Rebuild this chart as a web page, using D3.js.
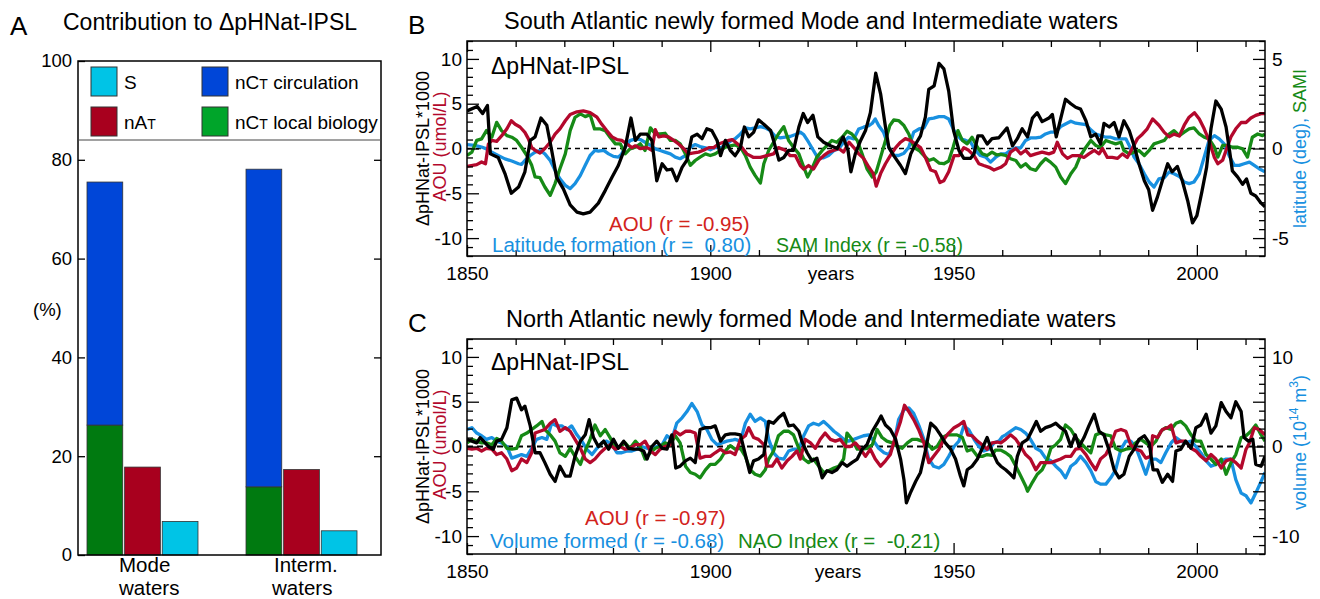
<!DOCTYPE html>
<html><head><meta charset="utf-8">
<script src="https://cdn.jsdelivr.net/npm/d3@7"></script>
<style>
body{margin:0;background:#fff}
svg{display:block;font-family:"Liberation Sans",Arial,Helvetica,sans-serif}
</style></head><body>
<svg id="c" width="1320" height="599"></svg>
<script>
// ---------- Panel A data ----------
const barCategories = ["Mode waters", "Interm. waters"];
const barLocalBio = [26.3, 13.8];
const barCirculation = [49.2, 64.3];   // stacked on local biology
const barNAT = [17.8, 17.3];
const barS = [6.8, 4.9];
const yTicksA = [0, 20, 40, 60, 80, 100];

// ---------- Panel B data (South Atlantic) ----------
const bPH = [[1850,4.2],[1852.1,4.7],[1853.2,3.9],[1854.2,4.8],[1854.8,-0.6],[1856.4,-1.0],[1857.8,-2.8],[1859.1,-5.0],[1860.6,-4.3],[1861.9,-2.6],[1863,0.9],[1864,1.3],[1865.2,3.4],[1866.4,2.6],[1867.4,-0.2],[1868.4,-3.2],[1869.8,-4.5],[1871.2,-6.3],[1872.6,-7.1],[1873.9,-7.3],[1875.3,-7.1],[1877,-6.1],[1878.4,-4.7],[1879.8,-3.2],[1881.1,-1.9],[1882.5,0.1],[1883.7,3.4],[1884.6,0.9],[1885.6,1.6],[1887,1.6],[1888,0.9],[1889,-3.6],[1890.1,-1.7],[1891.1,-2.4],[1892.1,-2.3],[1893.1,-3.6],[1894.2,-2.1],[1895.2,-1.3],[1896.2,1.3],[1897.3,1.6],[1898.3,1.1],[1899.3,2.2],[1900.3,2.0],[1901.4,0.9],[1902.1,-0.8],[1903.1,0.9],[1904.1,-0.2],[1905.1,-0.8],[1906.2,0.1],[1907,2.4],[1907.9,1.3],[1908.9,1.8],[1909.9,3.2],[1911,2.7],[1912.4,2.0],[1913,0.9],[1914.1,-1.3],[1915.1,-1.0],[1916.1,-0.2],[1917.1,-0.2],[1918.2,2.4],[1919.1,3.9],[1920,2.9],[1921.1,3.7],[1922.1,1.3],[1923.3,0.7],[1924.7,0.3],[1926.1,0],[1927.3,1.3],[1928.3,-0.2],[1928.9,-2.6],[1929.8,-0.6],[1930.9,0.9],[1931.9,2.0],[1932.9,4.0],[1934,8.4],[1935,6.1],[1936,2.4],[1936.7,0.1],[1937.7,-0.8],[1939.1,-1.9],[1940.1,-2.8],[1941.2,-0.6],[1942.2,0.5],[1943.2,1.4],[1944.2,3.5],[1944.9,6.6],[1946,7.0],[1947,9.5],[1948,8.9],[1949,6.4],[1950,2.0],[1951.1,-0.2],[1952.1,-1.1],[1953.5,-1.1],[1954.2,-0.6],[1955,1.4],[1955.9,1.4],[1956.9,0.5],[1957.9,1.1],[1959.3,1.2],[1961,2.3],[1962.1,0.3],[1963.1,1.1],[1964.1,2.2],[1965.2,1.3],[1966.2,3.4],[1967.2,4.0],[1968.2,3.0],[1969.6,3.4],[1970.3,3.8],[1971.1,1.3],[1972,3.3],[1973,5.5],[1974.1,5.0],[1975.1,4.6],[1976.1,4.4],[1977.2,3.1],[1978.2,1.3],[1979.2,1.6],[1980.2,0.5],[1980.9,2.8],[1982,2.4],[1983,2.9],[1984,1.3],[1985,3.1],[1986.1,2.0],[1987.1,0.3],[1988.1,-1.7],[1989.2,-3.6],[1990.1,-4.6],[1990.9,-6.9],[1991.9,-5.4],[1992.9,-3.6],[1994,-1.7],[1994.9,-2.6],[1996,-2.0],[1997,-3.6],[1998.1,-5.8],[1999.1,-8.3],[2000,-7.5],[2001,-4.9],[2002,-2.1],[2002.9,2.2],[2003.9,5.3],[2005,4.4],[2006,2.4],[2006.7,-0.2],[2007.3,-2.5],[2008.4,-3.2],[2009.4,-4.0],[2010.2,-3.4],[2011.1,-5.0],[2012.1,-5.3],[2013.2,-6.1],[2014,-6.5]];
const bAOU = [[1850,-2.0],[1852,-1.8],[1853,-1.5],[1853.8,-1.7],[1854.4,0.5],[1855.1,0.9],[1856.1,0.8],[1857.1,1.4],[1858.2,2.2],[1859.1,3.1],[1859.9,2.7],[1860.9,2.4],[1861.9,1.8],[1862.6,1.1],[1863.3,0.1],[1864,-0.2],[1865,-0.5],[1866,0],[1867.1,0.7],[1868.1,1.6],[1869.1,2.2],[1870.2,3.1],[1871.2,3.8],[1872.6,4.1],[1873.9,4.2],[1875.3,4.0],[1876.7,3.5],[1877.7,2.7],[1878.7,2.0],[1879.8,1.3],[1880.8,1.0],[1881.8,0.9],[1882.9,0.5],[1883.9,0.1],[1884.6,0.3],[1885.6,0],[1887,0.1],[1888,-0.2],[1888.7,2.1],[1889.4,1.3],[1890.4,1.4],[1891.4,1.3],[1892.5,0.9],[1893.5,0.5],[1894.5,0],[1895.5,-0.6],[1896.6,-0.5],[1897.6,-0.4],[1898.6,-0.2],[1899.7,0.1],[1900.7,0.1],[1901.7,0.5],[1902.7,0.7],[1903.8,0.9],[1904.5,1.0],[1906.5,0.1],[1907.5,-0.6],[1908.9,-1.0],[1910.3,-1.0],[1911.6,-0.8],[1913,-0.6],[1914,0.1],[1915.4,-0.2],[1916.4,-0.8],[1917.5,-0.8],[1918.5,-1.9],[1919.2,-2.3],[1920.2,-1.9],[1921.2,-2.3],[1922.3,-1.3],[1923.3,-0.8],[1924.3,-0.4],[1925.4,-0.2],[1926.4,0],[1927.4,-0.4],[1928.5,0.7],[1929.5,0.1],[1930.5,-0.6],[1931.5,-1.1],[1932.6,-2.1],[1933.5,-2.8],[1934.1,-4.2],[1935,-2.8],[1936,-1.7],[1937,-0.8],[1938.1,0.1],[1939.1,0.7],[1940.1,1.1],[1941.1,0.9],[1942.2,0.5],[1943.2,0.1],[1944.2,-1.0],[1945.3,-2.4],[1946.3,-2.6],[1947.2,-3.8],[1948,-3.6],[1949,-2.6],[1950.1,-0.8],[1951.1,-0.8],[1952.1,0.1],[1953.1,-0.2],[1954.2,-0.8],[1955.2,-1.7],[1956.2,-1.9],[1957.3,-2.1],[1958.3,-2.4],[1959.7,-2.1],[1960.7,-1.7],[1961.7,-0.4],[1962.8,0],[1963.8,-0.6],[1964.8,-0.2],[1965.8,-0.8],[1966.9,-0.6],[1968.2,-0.4],[1969.6,-0.6],[1970.6,-0.4],[1971.3,0.7],[1972.4,-0.6],[1973.4,-1.1],[1974.4,-0.8],[1975.8,-0.8],[1976.8,-1.0],[1977.8,-0.6],[1978.9,-0.2],[1979.9,-0.6],[1980.6,0],[1981.6,-1.0],[1982.6,-1.0],[1983.7,-1.1],[1984.7,-0.6],[1985.7,-1.0],[1986.8,0.1],[1987.8,1.1],[1988.8,1.6],[1989.8,2.2],[1990.9,3.3],[1992.2,2.6],[1993.3,1.8],[1994.3,1.3],[1995.3,1.6],[1996.4,1.4],[1997.4,2.6],[1998.4,3.5],[1999.5,4.0],[2000.5,3.3],[2001.5,2.2],[2002.5,0.9],[2003.6,-1.0],[2004.3,-1.7],[2005.3,-1.3],[2006,-0.2],[2007,1.3],[2008,2.2],[2009.1,2.9],[2010.1,2.9],[2011.1,3.4],[2012.1,3.7],[2013.2,3.9],[2014,3.9]];
// latitude of formation (deg, right axis)
const bLat = [[1850,0.22],[1851.6,0.17],[1853,0.08],[1854,-0.02],[1855.1,-0.2],[1856.4,-0.39],[1857.8,-0.58],[1859.2,-0.7],[1860.6,-0.85],[1861.2,-0.89],[1861.9,-0.67],[1863,-0.39],[1864,-0.2],[1865,-0.11],[1866,-0.3],[1867.1,-0.67],[1868.1,-1.22],[1869.1,-1.69],[1870.2,-2.06],[1871.2,-2.24],[1872.2,-1.96],[1873.3,-1.5],[1874.3,-0.94],[1875.3,-0.39],[1876.3,-0.11],[1877,-0.15],[1878.1,-0.11],[1879.1,-0.3],[1880.1,-0.44],[1881.1,-0.48],[1881.8,-0.3],[1882.5,0.07],[1883.5,0.44],[1884.6,0.54],[1885.6,0.5],[1886.6,0.35],[1887.7,0.17],[1888.7,-0.02],[1889.7,-0.11],[1890.7,-0.2],[1891.8,-0.3],[1892.8,-0.48],[1893.8,-0.57],[1894.9,-0.39],[1895.9,0.07],[1896.9,0.22],[1897.9,0.11],[1899,0.04],[1900,-0.07],[1901,0.07],[1902.1,0.04],[1903.1,0.17],[1904.1,0.4],[1905.1,0.54],[1906.2,0.81],[1907.2,1.15],[1908.2,1.09],[1909.2,1.15],[1910.3,1.22],[1911.3,1.15],[1912.3,1.0],[1913.4,0.67],[1914.4,0.59],[1915.4,0.63],[1916.4,0.67],[1917.5,0.78],[1918.5,0.91],[1919.2,0.78],[1920.2,0.35],[1921.2,-0.11],[1922.1,-0.52],[1923.3,-0.52],[1924.3,-0.39],[1925.4,-0.11],[1926.4,-0.02],[1927.4,0.35],[1928.4,0.63],[1929.5,0.54],[1930.5,1.09],[1931.5,1.19],[1932.6,1.28],[1933.3,1.41],[1933.9,1.65],[1934.6,1.28],[1935.6,0.91],[1936.7,0.07],[1937.7,-0.39],[1938.7,-0.39],[1939.8,-0.26],[1940.8,0.07],[1941.8,0.91],[1942.9,1.09],[1943.9,1.15],[1944.9,1.65],[1945.9,1.7],[1947,1.78],[1948,1.78],[1949,1.65],[1950.1,1.0],[1951.4,0.54],[1952.5,0.45],[1953.5,0.35],[1954.5,-0.11],[1955.5,-0.39],[1956.6,-0.48],[1957.6,-0.76],[1958.6,-0.5],[1959.7,-0.3],[1960.7,-0.3],[1961.7,-0.11],[1962.8,0.04],[1963.8,0.04],[1964.8,0.45],[1965.8,0.59],[1966.9,0.59],[1967.9,0.63],[1968.9,0.81],[1969.9,0.91],[1971,0.91],[1972,1.22],[1973,1.37],[1974.1,1.52],[1975.1,1.41],[1976.1,1.37],[1977.2,1.33],[1978.2,1.04],[1979.2,0.81],[1980.2,0.72],[1981.3,0.63],[1982.3,0.63],[1983.3,0.54],[1984.4,0.54],[1985.4,0.54],[1986.1,0.17],[1987.1,-0.48],[1988.1,-0.85],[1989.2,-1.41],[1990.2,-1.87],[1991.2,-2.15],[1992.2,-1.69],[1993.3,-1.63],[1994.3,-1.31],[1995.3,-1.41],[1996.4,-1.56],[1997.4,-1.87],[1998.4,-1.96],[1999.4,-1.87],[2000.5,-1.41],[2001.5,-0.48],[2002.5,0.45],[2003.6,0.72],[2004.6,0.54],[2005.6,0.26],[2006.6,-0.39],[2007.7,-0.94],[2008.7,-0.94],[2009.7,-0.85],[2010.8,-0.76],[2011.8,-0.94],[2012.8,-1.13],[2014,-1.3]];
// SAM index (right axis)
const bSAM = [[1850,-0.39],[1851,-0.2],[1852,0.45],[1853,0.54],[1854,1.0],[1855.1,0.63],[1856.1,1.46],[1857.1,1.0],[1858.2,0.72],[1859.2,0.63],[1860.2,0.45],[1861.2,0.07],[1862.3,-0.39],[1863.3,-0.94],[1864,-1.59],[1865,-1.63],[1866,-2.15],[1867.1,-2.61],[1868.1,-1.96],[1869.1,-1.13],[1870.2,-0.3],[1871.2,1.0],[1872.2,1.74],[1873.3,1.93],[1874.3,1.78],[1875.3,1.89],[1876.2,1.09],[1877.4,1.09],[1878.4,1.0],[1879.4,0.63],[1880.5,0.26],[1881.5,0.26],[1882.5,-0.3],[1883.5,-0.02],[1884.6,0.07],[1885.6,0.26],[1886.6,-0.11],[1887.7,1.15],[1888.7,0.81],[1889.7,0.81],[1890.7,0.85],[1891.8,0.45],[1892.8,0.45],[1893.8,0.26],[1894.9,-0.3],[1895.9,-0.94],[1896.9,-0.67],[1897.9,-0.48],[1899,-0.3],[1900,-0.39],[1901,-0.3],[1902.1,-0.11],[1903.1,0.07],[1904.1,0.15],[1905.1,0.2],[1906.2,0.07],[1907.2,-0.39],[1908.2,-1.04],[1909.2,-1.5],[1910.3,-1.93],[1911,-0.85],[1912,-0.11],[1913,0.35],[1914,0.81],[1915.1,1.22],[1916.1,0.45],[1917.1,0.07],[1918.2,-0.3],[1919.2,-1.04],[1920,-1.59],[1920.9,-1.13],[1921.9,-0.48],[1923,-0.11],[1924,0.17],[1925,0.45],[1926,0.35],[1927.1,0.63],[1928.1,0.96],[1929.1,0.81],[1930.2,0.45],[1931.2,-0.3],[1932.2,-1.13],[1933.3,-1.59],[1934.1,-1.31],[1935,-0.48],[1936,0.45],[1936.9,1.28],[1937.7,1.59],[1938.7,1.56],[1939.8,1.28],[1940.8,0.81],[1941.8,0.07],[1942.9,-0.11],[1943.9,-0.39],[1944.9,-0.67],[1945.9,-0.57],[1947,-0.81],[1948,-0.85],[1949,-0.7],[1949.9,0.07],[1950.9,1.0],[1951.8,0.45],[1952.8,0.26],[1953.8,0.63],[1954.9,0.07],[1955.9,-0.3],[1956.9,-0.39],[1957.9,-0.2],[1958.8,-0.35],[1959.7,-0.33],[1960.7,-0.39],[1961.7,-0.57],[1962.8,-0.67],[1963.8,-1.04],[1964.8,-0.85],[1965.8,-1.13],[1966.9,-1.22],[1967.9,-0.85],[1968.9,-0.57],[1969.9,-0.76],[1971,-1.04],[1972,-1.59],[1973,-1.96],[1974.1,-1.41],[1975.1,-1.04],[1976.1,-0.39],[1977.2,0.07],[1978.2,0.45],[1979.2,0.17],[1980.2,0.07],[1981.3,0.45],[1982.3,0.35],[1983.3,0.26],[1984.4,0.35],[1985,-0.11],[1986.1,-0.3],[1987.1,-0.2],[1988.1,-0.11],[1989.2,-0.39],[1990.2,-0.11],[1991.2,0.26],[1992.2,0.35],[1993.3,0.45],[1994.3,0.81],[1995.3,1.0],[1996.4,0.72],[1997.4,0.91],[1998.4,1.09],[1999.4,1.15],[2000.5,0.81],[2001.5,0.63],[2002.5,0.54],[2003.6,0.07],[2004.3,-0.48],[2005.3,0.17],[2006.3,0.17],[2007.3,0.07],[2008.4,0.07],[2009.4,-0.02],[2010.4,-0.48],[2011.4,0.63],[2012.5,0.81],[2013.5,0.72],[2014,0.8]];

// ---------- Panel C data (North Atlantic) ----------
const cPH = [[1850,0.8],[1851,0.6],[1852,0.4],[1852.7,1.0],[1853.4,0.6],[1854.4,0],[1855.4,-0.3],[1856.1,0.6],[1857.1,0.8],[1858.2,2.1],[1859.2,5.2],[1860.2,5.4],[1861.2,4.1],[1861.9,4.5],[1863,2.3],[1864,-0.7],[1865,-0.7],[1866,-1.8],[1867.1,-3.1],[1868.1,-3.9],[1869.1,-2.2],[1870.2,-3.3],[1871.2,-3.3],[1872.2,-1.1],[1873.3,0.6],[1874.3,1.3],[1875.1,3.0],[1876,1.0],[1877,0],[1878.1,0.6],[1879.1,-0.3],[1880.1,0.8],[1881.1,-0.2],[1882.2,0.6],[1883.2,-0.2],[1884.2,-0.3],[1885.3,-0.3],[1886.3,-0.5],[1887,-1.4],[1888,0],[1889,0.6],[1890.1,-0.2],[1891.1,-0.3],[1892.1,1.3],[1892.9,-2.4],[1893.8,-2.2],[1894.9,-1.6],[1895.9,-1.3],[1896.9,-1.8],[1897.9,1.9],[1899,2.1],[1900,2.1],[1901,2.3],[1902.1,0.6],[1903.1,1.3],[1904.1,1.4],[1905.1,1.4],[1906.2,1.3],[1907.2,-0.9],[1908.1,-2.9],[1908.9,-1.6],[1909.9,-1.4],[1911,-0.9],[1912,2.8],[1913,2.6],[1914,3.2],[1915.1,3.7],[1916.1,2.3],[1917.1,2.4],[1918.2,1.7],[1918.8,0.6],[1919.9,-0.7],[1920.9,-1.6],[1921.9,-1.3],[1923,-3.5],[1924,-2.7],[1925,-2.9],[1926,-2.6],[1927.1,-1.8],[1928.1,-2.2],[1929.1,-1.8],[1930.2,-1.4],[1931.2,-0.3],[1932.2,0.2],[1933.3,1.7],[1934.3,2.6],[1935.1,3.4],[1936,2.4],[1937,1.9],[1938.1,0.8],[1939.1,-1.4],[1939.8,-3.7],[1940.3,-6.3],[1941.1,-5.2],[1942.2,-3.9],[1943.2,-2.9],[1944.2,-0.5],[1945.3,2.6],[1946.3,2.1],[1947.3,1.3],[1948.3,0.4],[1949.4,-0.3],[1950.4,-1.4],[1951.4,-3.3],[1952.1,-4.4],[1952.8,-2.6],[1953.8,-2.2],[1954.9,-1.4],[1955.9,-0.2],[1956.9,1.0],[1957.9,-0.5],[1959,-1.8],[1959.7,-2.2],[1960.7,-2.6],[1961.7,-3.1],[1962.4,-3.5],[1963.1,-1.1],[1964.1,0.4],[1965.2,0.8],[1966.2,1.9],[1967,2.8],[1967.9,1.7],[1968.9,2.1],[1970,2.3],[1971,2.6],[1972,2.1],[1973,1.7],[1974.1,0],[1975,1.3],[1975.8,0],[1976.8,1.0],[1977.8,2.3],[1978.9,3.6],[1979.9,1.7],[1980.9,1.3],[1981.9,-0.3],[1983,-2.6],[1984,-3.5],[1985,-3.1],[1986.1,-1.1],[1987.1,-0.3],[1988.1,0.8],[1989.2,1.2],[1990.2,0.4],[1991,-2.6],[1991.9,-2.6],[1992.9,-4.0],[1994,-3.1],[1995,-3.9],[1995.7,-0.5],[1996.7,-0.3],[1997.7,0.6],[1998.8,-0.2],[1999.8,2.1],[2000.8,2.4],[2001.9,3.6],[2002.9,1.5],[2003.9,2.3],[2005,4.9],[2006,3.9],[2007,3.2],[2008,5.0],[2009.1,3.9],[2009.7,1.0],[2010.6,0.6],[2011.5,0.8],[2012.1,-2.0],[2013.2,-2.2],[2014,-1.1]];
const cAOU = [[1850,-0.2],[1851,-0.3],[1852,-0.2],[1853,-0.5],[1854,-0.2],[1855.1,-0.3],[1856.1,-0.9],[1857.1,-0.7],[1858.2,-1.4],[1859.2,-2.7],[1860.2,-2.4],[1861.2,-1.4],[1862.3,-1.8],[1863.3,-0.7],[1864,1.5],[1865,1.7],[1866,1.9],[1867.1,2.6],[1868.1,3.0],[1869.1,1.7],[1870.2,2.1],[1871.2,1.7],[1872.2,0.8],[1873.3,-0.2],[1874.3,-1.4],[1875.3,-1.8],[1876.3,-1.4],[1877.4,-0.7],[1878.4,-0.2],[1879.4,0.2],[1880.5,-0.3],[1881.5,0],[1882.5,-0.3],[1883.5,-0.2],[1884.6,0.2],[1885.6,0.2],[1886.6,0.6],[1887.7,-0.5],[1888.7,-0.9],[1889.7,-0.3],[1890.7,0],[1891.8,0.2],[1892.8,1.7],[1893.8,1.3],[1894.9,1.7],[1895.9,1.7],[1896.9,1.5],[1897.9,-1.3],[1899,-1.1],[1900,-1.1],[1901,-0.7],[1902.1,-0.3],[1903.1,-0.7],[1904.1,-0.6],[1905.1,-0.9],[1906.2,0.8],[1907.2,1.2],[1907.9,2.1],[1908.9,1.0],[1909.9,0.8],[1911,0.2],[1911.6,-2.2],[1912.7,-2.2],[1913.7,-1.4],[1914.7,-2.4],[1915.8,-1.6],[1916.8,-1.1],[1917.8,-0.5],[1918.5,-1.4],[1919.5,0.8],[1920.6,0.4],[1921.6,-0.2],[1922.6,0.8],[1923.6,1.5],[1924.7,0.8],[1925.7,0.6],[1926.7,0.8],[1927.8,0],[1928.8,0],[1929.8,0.4],[1930.9,-0.3],[1931.9,-1.1],[1932.9,-0.3],[1933.9,-1.4],[1935,-2.2],[1936,-1.6],[1937,-0.9],[1938.1,1.2],[1939.1,2.8],[1939.9,4.6],[1940.8,3.9],[1941.8,3.0],[1942.8,1.9],[1943.9,0.4],[1944.9,-1.8],[1945.9,-1.1],[1947,-0.3],[1948,0.8],[1949,1.5],[1950.1,2.1],[1951.1,2.4],[1952.1,2.8],[1952.9,1.3],[1953.8,1.2],[1954.9,0.6],[1955.9,0.2],[1956.9,-0.3],[1957.9,0.4],[1959,0.5],[1959.7,0.4],[1960.7,0.8],[1961.7,1.3],[1962.8,0.8],[1963.8,0],[1964.8,-0.9],[1965.8,-1.4],[1966.9,-2.6],[1967.9,-1.8],[1968.9,-1.8],[1970,-1.8],[1971,-1.6],[1972,-1.4],[1973,-1.1],[1974.1,-1.1],[1975.1,-0.3],[1976.1,-0.2],[1977.2,-0.9],[1978.2,-1.8],[1979.2,-2.6],[1980.2,-1.4],[1981.3,-0.9],[1982.3,0.2],[1983.3,1.7],[1984.4,1.9],[1985.4,1.7],[1986.4,0.2],[1987.4,-0.3],[1988.5,-0.5],[1989.5,-1.3],[1990.5,-1.1],[1990.9,1.2],[1991.9,1.0],[1992.9,1.9],[1994,2.1],[1994.7,2.4],[1995.7,0.4],[1996.7,0.6],[1997.7,0.6],[1998.8,-0.2],[1999.8,-0.5],[2000.8,-1.1],[2001.9,-1.6],[2002.9,-0.9],[2003.9,-1.4],[2005,-2.4],[2006,-1.6],[2007,-1.4],[2008,-1.8],[2009.1,-2.4],[2010.1,-0.3],[2010.8,0.4],[2011.8,2.1],[2012.8,1.9],[2014,1.3]];
// volume formed (10^14 m^3, right axis)
const cVol = [[1850,1.9],[1851,2.1],[1852,1.5],[1853,1.2],[1854,0.8],[1855.1,1.0],[1856.1,0.6],[1857.1,0.4],[1858.2,0],[1859.2,-1.3],[1860.2,-1.1],[1861.2,-0.9],[1862.3,-1.1],[1863.3,-0.2],[1864.3,0.8],[1865.4,1.0],[1866.4,0.8],[1867.4,2.6],[1868.4,2.3],[1869.5,2.3],[1870.5,1.9],[1871.5,2.3],[1872.6,1.3],[1873.6,0.6],[1874.6,-0.3],[1875.7,-0.9],[1876.7,-0.2],[1877.7,0.4],[1878.7,0.6],[1879.8,0.2],[1880.8,-0.7],[1881.8,-0.7],[1882.9,-0.5],[1883.9,-0.5],[1884.9,-0.3],[1885.9,0],[1887,-0.2],[1888,-0.3],[1889,0],[1890.1,0.2],[1891.1,1.2],[1892.1,0.8],[1893.1,2.6],[1894.2,3.2],[1895.2,3.9],[1896.2,4.8],[1897.3,3.9],[1898.3,2.4],[1899.3,1.9],[1900.3,0.8],[1901.4,0.2],[1902.4,0.4],[1903.4,0.6],[1904.5,0.7],[1905.1,0.8],[1906.2,0.6],[1907.2,2.6],[1908.2,3.6],[1909.2,2.8],[1910.3,3.2],[1911.3,2.8],[1912,0.8],[1913,-0.7],[1914,-1.3],[1915.1,-1.4],[1916.1,-0.5],[1917.1,-0.3],[1918.2,-0.3],[1919.2,1.2],[1920.2,2.3],[1921.2,2.6],[1922.3,2.4],[1923.3,2.8],[1924.3,2.3],[1925.4,1.7],[1926.4,1.3],[1927.4,0.8],[1928.4,0.6],[1929.5,0.8],[1930.5,1.0],[1931.5,1.2],[1932.6,1.3],[1933.6,0.6],[1934.6,-0.2],[1935.7,-0.7],[1936.7,-0.9],[1937.7,0.2],[1938.7,3.0],[1939.8,4.1],[1940.8,4.3],[1941.8,3.7],[1942.9,2.3],[1943.9,0.8],[1944.9,-1.4],[1945.9,-2.2],[1947,-2.4],[1948,-2.0],[1949,-1.1],[1950.1,0],[1951.1,0.6],[1952.1,2.3],[1953.1,1.9],[1954.2,0.8],[1955.2,0],[1956.2,-0.5],[1957.3,-0.3],[1958.3,0.4],[1959.3,0.6],[1960,1.1],[1960.7,1.3],[1961.7,1.7],[1962.8,2.1],[1963.8,1.9],[1964.8,1.5],[1965.8,0.8],[1966.9,-0.2],[1967.9,-0.5],[1968.9,-1.3],[1970,-1.6],[1971,-2.2],[1972,-2.7],[1973,-3.5],[1974.1,-2.2],[1975.1,-1.8],[1976.1,-1.1],[1977.2,-1.8],[1978.2,-2.7],[1979.2,-3.9],[1980.2,-4.2],[1981.3,-4.2],[1982.3,-3.5],[1983.3,-2.6],[1984.4,-0.3],[1985.4,0.6],[1986.4,0.6],[1987.4,0],[1988.5,-1.6],[1989.5,-3.1],[1990.5,-1.4],[1991.6,-1.4],[1992.6,-1.8],[1993.6,-0.7],[1994.7,0.4],[1995.7,1.0],[1996.7,0.6],[1997.7,0.4],[1998.8,0.6],[1999.8,0],[2000.8,-0.7],[2001.9,-1.6],[2002.9,-2.2],[2003.9,-2.0],[2005,-1.6],[2006,-1.4],[2007,-1.4],[2008,-3.7],[2009.1,-5.2],[2010.1,-5.5],[2011.1,-6.3],[2012.1,-5.2],[2013.2,-3.9],[2014,-2.9]];
const cNAO = [[1850,0.4],[1851,0.8],[1852,0.6],[1853,0.4],[1854,0.4],[1855.1,0.2],[1856.1,0.9],[1857.1,0.6],[1858.2,-0.2],[1859.2,-0.3],[1860.2,-0.2],[1861.2,1.2],[1862.3,1.5],[1863.3,1.9],[1864.3,2.3],[1865.4,2.8],[1866,1.9],[1867.1,1.3],[1868.1,0.6],[1869.1,-0.7],[1870.2,-1.1],[1871.2,-0.2],[1872.2,-1.1],[1873.3,-2.0],[1874.3,-0.5],[1875.3,0.8],[1876.3,2.4],[1877.4,1.2],[1878.4,1.9],[1879.4,1.0],[1880.5,-0.2],[1881.5,0],[1882.5,0.4],[1883.5,-0.2],[1884.6,0.6],[1885.6,0],[1886.6,-1.4],[1887.7,-0.7],[1888.7,-0.2],[1889.7,0],[1890.7,0.4],[1891.8,0.2],[1892.8,1.2],[1893.8,0.4],[1894.9,-2.2],[1895.9,-2.9],[1896.9,-3.1],[1897.9,-3.5],[1899,-2.6],[1900,-2.0],[1901,-2.0],[1902.1,-1.4],[1903.1,-0.5],[1904.1,0.1],[1905.1,-0.3],[1906.2,-0.2],[1907.2,-1.1],[1908.2,-2.6],[1909.2,-3.1],[1910.3,-3.3],[1911.3,-2.6],[1912,-1.4],[1913,-0.5],[1914,1.2],[1915.1,1.7],[1916.1,1.7],[1917.1,1.3],[1918.2,-0.2],[1919.2,-1.4],[1920.2,-1.8],[1921.2,-1.4],[1922.3,-2.2],[1923.3,-2.9],[1924.3,-2.7],[1925.4,-2.4],[1926.4,-2.2],[1927.4,-1.4],[1928.1,1.5],[1929.1,0.8],[1930.2,-0.3],[1931.2,-0.3],[1932.2,-0.2],[1933.3,0.2],[1934.3,1.9],[1935.3,1.0],[1936.3,0.6],[1937.4,0.4],[1938.4,0],[1939.4,-0.2],[1940.5,0.4],[1941.5,0.8],[1942.5,0.8],[1943.5,0.6],[1944.6,0.4],[1945.6,-0.3],[1946.6,0],[1947.7,1.0],[1948.7,1.3],[1949.7,1.3],[1950.7,1.3],[1951.8,1.0],[1952.8,-0.5],[1953.8,-0.3],[1954.9,-1.1],[1955.9,-1.1],[1956.9,-0.9],[1957.9,-1.0],[1958.6,-0.4],[1959.7,-0.4],[1960.7,-0.7],[1961.7,-1.1],[1962.8,-2.2],[1963.8,-3.3],[1964.8,-4.4],[1965.2,-5.0],[1966.2,-4.0],[1967.2,-3.1],[1968.2,-2.6],[1969.3,-1.4],[1970,-0.2],[1971,0.2],[1972,0.8],[1973,2.4],[1974.1,1.9],[1975.1,1.0],[1976.1,0.4],[1977.2,-0.2],[1978.2,-0.7],[1979.2,1.3],[1980.2,1.5],[1981.3,1.3],[1982.3,1.2],[1983.3,-0.2],[1984.4,-0.5],[1985.4,-0.3],[1986.4,-0.2],[1987.4,0.4],[1988.5,0.8],[1989.5,0.4],[1990.5,0],[1991.6,0.6],[1992.6,1.7],[1993.6,2.1],[1994.7,1.9],[1995.7,2.6],[1996.7,2.8],[1997.7,2.3],[1998.8,1.3],[1999.8,0.6],[2000.8,0.6],[2001.9,-0.9],[2002.9,-1.4],[2003.9,-2.0],[2005,-1.4],[2006,-3.1],[2007,-1.8],[2008,-0.9],[2009.1,1.0],[2010.1,1.2],[2011.1,1.7],[2012.1,2.4],[2013.2,1.3],[2014,0.6]];

const xMajor = [1850, 1900, 1950, 2000];
const yMajorLeft = [-10, -5, 0, 5, 10];

// ---------- drawing ----------
const svg = d3.select("#c");
const COL = {
  red: "#b3082c", redTxt: "#d2231c", blue: "#1890e0", green: "#168a16",
  barCyan: "#00c4e6", barBlue: "#0046d8", barRed: "#a8001e", barGreen: "#007a10", legGreen: "#00a52a"
};

function text(g, x, y, s, size, fill, anchor) {
  return g.append("text").attr("x", x).attr("y", y).attr("font-size", size)
    .attr("fill", fill || "#000").attr("text-anchor", anchor || "start").text(s);
}
function styleAxis(g, size) {
  g.attr("font-size", null).attr("font-family", null);
  g.select(".domain").remove();
  g.selectAll("line").attr("stroke", "#000").attr("stroke-width", 1.3);
  g.selectAll("text").attr("font-size", size).attr("fill", "#000");
}

// ===== Panel A =====
(function () {
  const L = 78, R = 381, T = 61, B = 555;
  const yA = d3.scaleLinear().domain([0, 100]).range([B, T]);
  const xA = d3.scaleBand().domain(barCategories).range([87, 357]).paddingInner(0.302);
  const xSub = d3.scaleBand().domain(["stack", "nAT", "S"]).range([0, xA.bandwidth()]).paddingInner(0.05);
  const g = svg.append("g");

  text(svg, 10, 35, "A", 26);
  text(svg, 63, 30, "Contribution to \u0394pHNat-IPSL", 23);

  barCategories.forEach((c, i) => {
    const x0 = xA(c);
    const rects = [
      { x: x0 + xSub("stack"), y0: 0, y1: barLocalBio[i], col: COL.barGreen },
      { x: x0 + xSub("stack"), y0: barLocalBio[i], y1: barLocalBio[i] + barCirculation[i], col: COL.barBlue },
      { x: x0 + xSub("nAT"), y0: 0, y1: barNAT[i], col: COL.barRed },
      { x: x0 + xSub("S"), y0: 0, y1: barS[i], col: COL.barCyan }
    ];
    rects.forEach(r => {
      g.append("rect").attr("x", r.x).attr("y", yA(r.y1)).attr("width", xSub.bandwidth())
        .attr("height", yA(r.y0) - yA(r.y1)).attr("fill", r.col).attr("stroke", "#333").attr("stroke-width", 0.8);
    });
  });
  g.append("rect").attr("x", L).attr("y", T).attr("width", R - L).attr("height", B - T)
    .attr("fill", "none").attr("stroke", "#000").attr("stroke-width", 1.5);
  // legend separator
  g.append("line").attr("x1", L).attr("x2", R).attr("y1", 140).attr("y2", 140).attr("stroke", "#444").attr("stroke-width", 1);

  const ax = g.append("g").attr("transform", `translate(${L},0)`)
    .call(d3.axisLeft(yA).tickValues(yTicksA).tickSize(-7).tickPadding(6).tickFormat(d => String(d)));
  styleAxis(ax, 18.5);
  const axr = g.append("g").attr("transform", `translate(${R},0)`)
    .call(d3.axisRight(yA).tickValues(yTicksA.slice(1, 5)).tickSize(-7).tickFormat(""));
  styleAxis(axr, 18);

  text(svg, 33, 316, "(%)", 18.5);

  // legend
  const leg = [
    { x: 91, y: 67, col: COL.barCyan, lab: ["S"] },
    { x: 91, y: 107, col: COL.barRed, lab: ["nA", "T"] },
    { x: 202, y: 67, col: COL.barBlue, lab: ["nC", "T", " circulation"] },
    { x: 202, y: 107, col: COL.legGreen, lab: ["nC", "T", " local biology"] }
  ];
  leg.forEach(d => {
    g.append("rect").attr("x", d.x).attr("y", d.y).attr("width", 26).attr("height", 29)
      .attr("fill", d.col).attr("stroke", "#333").attr("stroke-width", 1);
    const t = g.append("text").attr("x", d.x + 33).attr("y", d.y + 22).attr("font-size", 19).attr("style", "white-space:pre");
    d.lab.forEach((s, k) => t.append("tspan").attr("font-size", k === 1 ? 14 : 19).text(s));
  });

  // category labels
  [[119, 572, "Mode"], [119, 594.5, "waters"], [274, 572, "Interm."], [272, 594.5, "waters"]]
    .forEach(d => text(svg, d[0], d[1], d[2], 20.5));
})();

// ===== time-series panels =====
function panel(o) {
  const L = 467, R = 1265, T = o.top, B = o.top + 215;
  const x = d3.scaleLinear().domain([1850, 2014]).range([L, R]);
  const yL = d3.scaleLinear().domain([-12, 12]).range([B, T]);
  const yR = d3.scaleLinear().domain(o.rDomain).range([B, T]);
  const g = svg.append("g");

  text(svg, 408, T - 7, o.letter, 26);
  text(svg, 811, T - 12.5, o.title, 23.5, "#000", "middle");

  const clipId = "clip" + o.letter;
  svg.append("clipPath").attr("id", clipId).append("rect").attr("x", L).attr("y", T).attr("width", R - L).attr("height", B - T);

  // zero line
  g.append("line").attr("x1", L).attr("x2", R).attr("y1", yL(0)).attr("y2", yL(0))
    .attr("stroke", "#000").attr("stroke-width", o.dashW).attr("stroke-dasharray", o.dash);

  const lines = g.append("g").attr("clip-path", `url(#${clipId})`);
  o.series.forEach(s => {
    const y = s.right ? yR : yL;
    lines.append("path").datum(s.data)
      .attr("d", d3.line().x(d => x(d[0])).y(d => y(d[1])))
      .attr("fill", "none").attr("stroke", s.col).attr("stroke-width", 3.3).attr("stroke-linejoin", "round");
  });

  g.append("rect").attr("x", L).attr("y", T).attr("width", R - L).attr("height", B - T)
    .attr("fill", "none").attr("stroke", "#000").attr("stroke-width", 1.5);

  // axes
  const minorX = d3.range(1860, 2011, 10).filter(v => !xMajor.includes(v));
  const ab = g.append("g").attr("transform", `translate(0,${B})`)
    .call(d3.axisBottom(x).tickValues(xMajor).tickSize(-11).tickPadding(11).tickFormat(d => String(d)));
  styleAxis(ab, 19);
  styleAxis(g.append("g").attr("transform", `translate(0,${B})`).call(d3.axisBottom(x).tickValues(minorX).tickSize(-6).tickFormat("")), 18);
  styleAxis(g.append("g").attr("transform", `translate(0,${T})`).call(d3.axisTop(x).tickValues(xMajor).tickSize(-11).tickFormat("")), 18);
  styleAxis(g.append("g").attr("transform", `translate(0,${T})`).call(d3.axisTop(x).tickValues(minorX).tickSize(-6).tickFormat("")), 18);

  const al = g.append("g").attr("transform", `translate(${L},0)`)
    .call(d3.axisLeft(yL).tickValues(yMajorLeft).tickSize(-12).tickPadding(5).tickFormat(d => String(d)));
  styleAxis(al, 19);
  styleAxis(g.append("g").attr("transform", `translate(${L},0)`)
    .call(d3.axisLeft(yL).tickValues(d3.range(-12, 13).filter(v => v % 5 !== 0)).tickSize(-6).tickFormat("")), 18);

  const ar = g.append("g").attr("transform", `translate(${R},0)`)
    .call(d3.axisRight(yR).tickValues(o.rMajor).tickSize(-12).tickPadding(7)
      .tickFormat(d => o.rLabels.includes(d) ? String(d) : ""));
  styleAxis(ar, 19);
  styleAxis(g.append("g").attr("transform", `translate(${R},0)`)
    .call(d3.axisRight(yR).tickValues(o.rMinor).tickSize(-6).tickFormat("")), 18);

  text(svg, o.yearsX, B + 24, "years", 19, "#000", "middle");
  text(svg, 491, T + o.innerDy, "\u0394pHNat-IPSL", 23);

  // left axis titles
  const cy = (T + B) / 2;
  svg.append("text").attr("transform", `translate(429,${cy}) rotate(-90)`).attr("text-anchor", "middle")
    .attr("font-size", 18).text("\u0394pHNat-IPSL*1000");
  svg.append("text").attr("transform", `translate(446,${cy - 2}) rotate(-90)`).attr("text-anchor", "middle")
    .attr("font-size", 18).attr("fill", COL.red).text("AOU (umol/L)");
  o.rightTitle(cy);

  o.notes.forEach(n => {
    svg.append("text").attr("x", n.x).attr("y", T + n.dy).attr("font-size", n.size).attr("fill", n.col)
      .attr("style", "white-space:pre").text(n.s);
  });
}

panel({
  letter: "B", top: 41, title: "South Atlantic newly formed Mode and Intermediate waters",
  rDomain: [-6, 6], rMajor: [-5, 0, 5], rLabels: [-5, 0, 5],
  rMinor: d3.range(-6, 6.01, 0.5).filter(v => v % 5 !== 0),
  dash: "5,4", dashW: 1.3, yearsX: 831, innerDy: 33,
  series: [
    { data: bLat, col: COL.blue, right: true },
    { data: bSAM, col: COL.green, right: true },
    { data: bAOU, col: COL.red },
    { data: bPH, col: "#000" }
  ],
  notes: [
    { x: 609, dy: 190, s: "AOU (r = -0.95)", col: COL.redTxt, size: 20.5 },
    { x: 492, dy: 211, s: "Latitude formation (r =  0.80)", col: COL.blue, size: 20.5 },
    { x: 776, dy: 211, s: "SAM Index (r = -0.58)", col: COL.green, size: 19.5 }
  ],
  rightTitle: cy => {
    const t = svg.append("text").attr("transform", `translate(1306,${cy}) rotate(-90)`).attr("text-anchor", "middle")
      .attr("font-size", 18).attr("style", "white-space:pre");
    t.append("tspan").attr("fill", COL.blue).text("latitude (deg), ");
    t.append("tspan").attr("fill", COL.green).text("SAMI");
  }
});

panel({
  letter: "C", top: 339, title: "North Atlantic newly formed Mode and Intermediate waters",
  rDomain: [-12, 12], rMajor: [-10, -5, 0, 5, 10], rLabels: [-10, 0, 10],
  rMinor: d3.range(-12, 13).filter(v => v % 5 !== 0),
  dash: "6,4", dashW: 2.2, yearsX: 838, innerDy: 31,
  series: [
    { data: cVol, col: COL.blue, right: true },
    { data: cNAO, col: COL.green },
    { data: cAOU, col: COL.red },
    { data: cPH, col: "#000" }
  ],
  notes: [
    { x: 585, dy: 186, s: "AOU (r = -0.97)", col: COL.redTxt, size: 20.5 },
    { x: 490, dy: 209, s: "Volume formed (r = -0.68)", col: COL.blue, size: 20.5 },
    { x: 738, dy: 209, s: "NAO Index (r =  -0.21)", col: COL.green, size: 20.5 }
  ],
  rightTitle: cy => {
    const t = svg.append("text").attr("transform", `translate(1306,${cy - 4}) rotate(-90)`).attr("text-anchor", "middle")
      .attr("font-size", 18).attr("fill", COL.blue);
    t.append("tspan").text("volume (10");
    t.append("tspan").attr("font-size", 12).attr("dy", -8).text("14");
    t.append("tspan").attr("dy", 8).text(" m");
    t.append("tspan").attr("font-size", 12).attr("dy", -8).text("3");
    t.append("tspan").attr("dy", 8).text(")");
  }
});
</script></body></html>
